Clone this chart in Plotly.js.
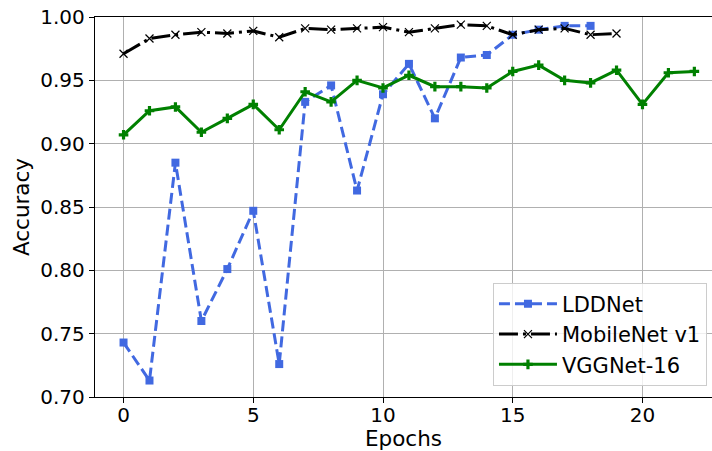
<!DOCTYPE html>
<html>
<head>
<meta charset="utf-8">
<script src="https://cdn.plot.ly/plotly-3.0.1.min.js"></script>
<style>html,body{margin:0;padding:0;background:#fff}#chart{width:712px;height:451px}</style>
</head>
<body>
<div id="chart"></div>
<script>
const lddEpochs = [0,1,2,3,4,5,6,7,8,9,10,11,12,13,14,15,16,17,18];
const lddAcc = [0.743,0.713,0.885,0.760,0.801,0.847,0.726,0.933,0.946,0.863,0.939,0.963,0.920,0.968,0.970,0.986,0.990,0.993,0.993];
const mobEpochs = [0,1,2,3,4,5,6,7,8,9,10,11,12,13,14,15,16,17,18,19];
const mobAcc = [0.971,0.983,0.986,0.988,0.987,0.989,0.984,0.991,0.990,0.991,0.992,0.988,0.991,0.994,0.993,0.986,0.990,0.991,0.986,0.987];
const vggEpochs = [0,1,2,3,4,5,6,7,8,9,10,11,12,13,14,15,16,17,18,19,20,21,22];
const vggAcc = [0.907,0.926,0.929,0.909,0.920,0.931,0.911,0.941,0.933,0.950,0.944,0.954,0.945,0.945,0.944,0.957,0.962,0.950,0.948,0.958,0.931,0.956,0.957];
const seriesNames = ["LDDNet","MobileNet v1","VGGNet-16"];
const yTicks = [0.70,0.75,0.80,0.85,0.90,0.95,1.00];
const xTicks = [0,5,10,15,20];

const fam = "DejaVu Sans, sans-serif";
const tickFont = {family: fam, size: 20, color: "#000"};
const titleFont = {family: fam, size: 21.5, color: "#000"};
const legFont = {family: fam, size: 21, color: "#000"};
const traces = [
  {x: lddEpochs, y: lddAcc, name: seriesNames[0], mode: "lines+markers",
   line: {color: "#4169e1", width: 3, dash: "11px,5px"},
   marker: {symbol: "square", size: 8, color: "#4169e1"}},
  {x: mobEpochs, y: mobAcc, name: seriesNames[1], mode: "lines+markers",
   line: {color: "#000", width: 3, dash: "19px,5px,3px,5px"},
   marker: {symbol: "x-thin", size: 8, color: "#000", line: {color: "#000", width: 1.2}}},
  {x: vggEpochs, y: vggAcc, name: seriesNames[2], mode: "lines+markers",
   line: {color: "#008000", width: 3},
   marker: {symbol: "cross", size: 8, color: "#008000"}}
];
const layout = {
  width: 712, height: 451,
  margin: {l: 95, r: 0, t: 17, b: 54},
  paper_bgcolor: "#fff", plot_bgcolor: "#fff",
  font: tickFont,
  showlegend: true,
  legend: {x: 0.645, y: 0.03, xanchor: "left", yanchor: "bottom",
    bgcolor: "rgba(255,255,255,0.8)", bordercolor: "#cccccc", borderwidth: 1,
    font: legFont, tracegroupgap: 0, itemwidth: 58},
  xaxis: {range: [-1.1, 22.68], tickvals: xTicks, ticktext: xTicks.map(String),
    showgrid: true, gridcolor: "#b0b0b0", gridwidth: 1, zeroline: false,
    showline: true, linecolor: "#000", linewidth: 1.2, mirror: true,
    ticks: "outside", ticklen: 5, tickcolor: "#000", tickfont: tickFont,
    ticklabelstandoff: -5,
    title: {text: "Epochs", font: titleFont, standoff: 4}},
  yaxis: {range: [0.70, 1.00], tickvals: yTicks, ticktext: yTicks.map(v => v.toFixed(2)),
    showgrid: true, gridcolor: "#b0b0b0", gridwidth: 1, zeroline: false,
    showline: true, linecolor: "#000", linewidth: 1.2,
    ticks: "outside", ticklen: 5, tickcolor: "#000", tickfont: tickFont,
    title: {text: "Accuracy", font: titleFont, standoff: 4}}
};
Plotly.newPlot("chart", traces, layout, {displayModeBar: false, staticPlot: true});
</script>
</body>
</html>
